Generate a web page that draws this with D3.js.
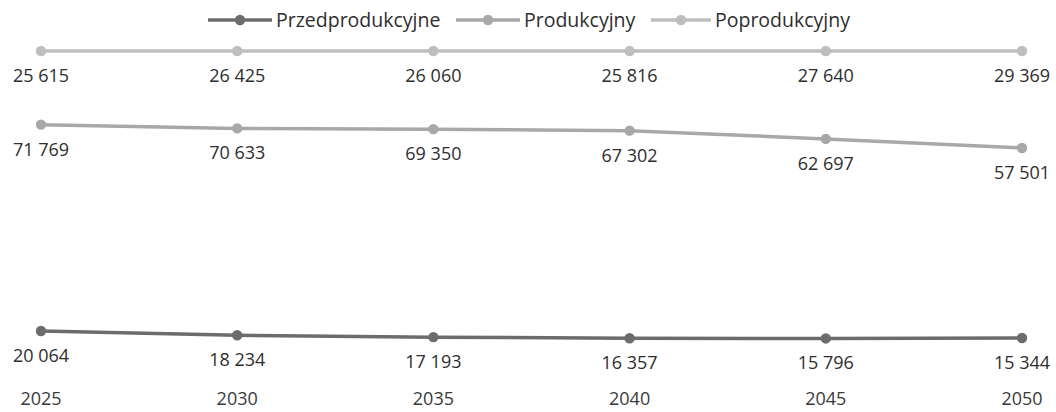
<!DOCTYPE html>
<html><head><meta charset="utf-8">
<script src="https://cdn.jsdelivr.net/npm/d3@7"></script>
<style>
html,body{margin:0;padding:0;background:#fff;}
svg{display:block;}
text{font-family:"Open Sans",sans-serif;}
</style></head>
<body>
<svg id="chart" width="1056" height="412"></svg>
<script>
const years = ["2025","2030","2035","2040","2045","2050"];
const seriesNames = ["Przedprodukcyjne","Produkcyjny","Poprodukcyjny"];
const przedprodukcyjne = [20064,18234,17193,16357,15796,15344];
const produkcyjny = [71769,70633,69350,67302,62697,57501];
const poprodukcyjny = [25615,26425,26060,25816,27640,29369];
const colors = ["#6c6c6c","#a8a8a8","#bebebe"];

const seriesVals = [przedprodukcyjne, produkcyjny, poprodukcyjny];
const totals = years.map((y,i)=>seriesVals.reduce((s,a)=>s+a[i],0));
// 100% stacked line: cumulative share
const cum = seriesVals.map((arr,k)=>arr.map((v,i)=>{
  let s=0; for(let j=0;j<=k;j++) s+=seriesVals[j][i];
  return s/totals[i];
}));

const svg = d3.select("#chart");
const x = d3.scalePoint().domain(years).range([41,1022]);
const y = d3.scaleLinear().domain([0,1]).range([388.7,51]);

// x axis labels
svg.append("g").selectAll("text").data(years).join("text")
  .attr("x",d=>x(d)).attr("y",405).attr("text-anchor","middle")
  .attr("font-size",18).attr("fill","#3a3a3a").text(d=>d);

const fmt = v => d3.format(",")(v).replace(/,/g," ");

seriesNames.forEach((name,k)=>{
  const pts = years.map((yr,i)=>({yr, p:cum[k][i], v:seriesVals[k][i]}));
  const g = svg.append("g");
  g.append("path").datum(pts)
    .attr("fill","none").attr("stroke",colors[k]).attr("stroke-width",3.5)
    .attr("d", d3.line().x(d=>x(d.yr)).y(d=>y(d.p)));
  g.selectAll("circle").data(pts).join("circle")
    .attr("cx",d=>x(d.yr)).attr("cy",d=>y(d.p)).attr("r",5.2)
    .attr("fill",colors[k]);
  g.selectAll("text").data(pts).join("text")
    .attr("x",d=>x(d.yr)).attr("y",d=>y(d.p)+31).attr("text-anchor","middle")
    .attr("font-size",18).attr("fill","#2e2e2e").text(d=>fmt(d.v));
});

// legend
const legendX = [208,456,651];
const lg = svg.append("g");
seriesNames.forEach((name,k)=>{
  const x0 = legendX[k];
  const w = k===2 ? 60 : 64;
  lg.append("line").attr("x1",x0).attr("x2",x0+w).attr("y1",20).attr("y2",20)
    .attr("stroke",colors[k]).attr("stroke-width",3.5);
  lg.append("circle").attr("cx",x0+w/2).attr("cy",20).attr("r",5.2).attr("fill",colors[k]);
  lg.append("text").attr("x",x0+w+4).attr("y",26.5).attr("font-size",19.5)
    .attr("fill","#2e2e2e").text(name);
});
</script>
</body></html>
